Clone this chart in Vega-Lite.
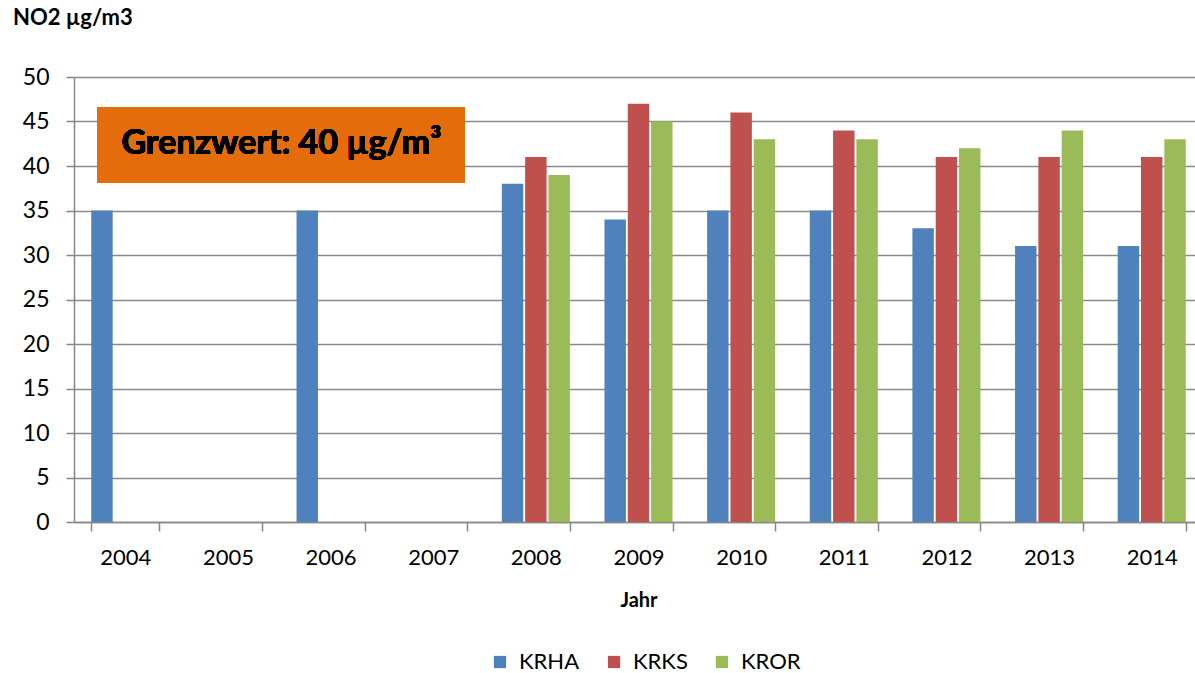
{
  "$schema": "https://vega.github.io/schema/vega-lite/v6.json",
  "width": 1129,
  "height": 445,
  "autosize": {"type": "none"},
  "padding": {"left": 74, "top": 77, "right": 0, "bottom": 151},
  "background": "white",
  "title": {"text": "NO2 µg/m3", "anchor": "start", "frame": "group", "dx": -61, "offset": 19, "baseline": "alphabetic", "font": "Lato", "fontSize": 22, "fontWeight": "bold", "color": "black"},
  "config": {"font": "Lato", "view": {"stroke": null}},
  "data": {"values": [
    {"Jahr": "2004", "Station": "KRHA", "NO2": 35},
    {"Jahr": "2006", "Station": "KRHA", "NO2": 35},
    {"Jahr": "2008", "Station": "KRHA", "NO2": 38},
    {"Jahr": "2008", "Station": "KRKS", "NO2": 41},
    {"Jahr": "2008", "Station": "KROR", "NO2": 39},
    {"Jahr": "2009", "Station": "KRHA", "NO2": 34},
    {"Jahr": "2009", "Station": "KRKS", "NO2": 47},
    {"Jahr": "2009", "Station": "KROR", "NO2": 45},
    {"Jahr": "2010", "Station": "KRHA", "NO2": 35},
    {"Jahr": "2010", "Station": "KRKS", "NO2": 46},
    {"Jahr": "2010", "Station": "KROR", "NO2": 43},
    {"Jahr": "2011", "Station": "KRHA", "NO2": 35},
    {"Jahr": "2011", "Station": "KRKS", "NO2": 44},
    {"Jahr": "2011", "Station": "KROR", "NO2": 43},
    {"Jahr": "2012", "Station": "KRHA", "NO2": 33},
    {"Jahr": "2012", "Station": "KRKS", "NO2": 41},
    {"Jahr": "2012", "Station": "KROR", "NO2": 42},
    {"Jahr": "2013", "Station": "KRHA", "NO2": 31},
    {"Jahr": "2013", "Station": "KRKS", "NO2": 41},
    {"Jahr": "2013", "Station": "KROR", "NO2": 44},
    {"Jahr": "2014", "Station": "KRHA", "NO2": 31},
    {"Jahr": "2014", "Station": "KRKS", "NO2": 41},
    {"Jahr": "2014", "Station": "KROR", "NO2": 43}
  ]},
  "layer": [
    {
      "mark": {"type": "bar"},
      "encoding": {
        "x": {"field": "Jahr", "type": "nominal",
          "scale": {"domain": ["2004", "2005", "2006", "2007", "2008", "2009", "2010", "2011", "2012", "2013", "2014"], "paddingInner": 0.337, "paddingOuter": 0.168},
          "axis": {"title": "Jahr", "titleFont": "Lato", "titleFontSize": 20, "titleFontWeight": "bold", "titleColor": "black", "titlePadding": 22,
            "labelFont": "Lato", "labelFontSize": 22, "labelColor": "black", "labelAngle": 0, "labelPadding": 16,
            "tickBand": "extent", "tickSize": 9, "tickColor": "#868686", "tickWidth": 1.5, "domainColor": "#868686", "domainWidth": 1.5, "grid": false}},
        "xOffset": {"field": "Station", "type": "nominal", "scale": {"domain": ["KRHA", "KRKS", "KROR"], "paddingInner": 0.08}},
        "y": {"field": "NO2", "type": "quantitative", "scale": {"domain": [0, 50], "nice": false},
          "axis": {"title": null, "values": [0, 5, 10, 15, 20, 25, 30, 35, 40, 45, 50], "labelFont": "Lato", "labelFontSize": 23, "labelColor": "black", "labelPadding": 17,
            "tickSize": 8, "tickColor": "#868686", "tickWidth": 1.5, "domainColor": "#868686", "domainWidth": 1.5, "grid": true, "gridColor": "#8a8a8a", "gridWidth": 1.5}},
        "color": {"field": "Station", "type": "nominal",
          "scale": {"domain": ["KRHA", "KRKS", "KROR"], "range": ["#4F81BD", "#C0504D", "#9BBB59"]},
          "legend": {"orient": "none", "legendX": 415, "legendY": 574, "direction": "horizontal", "title": null, "symbolType": "square", "symbolSize": 150, "symbolStrokeWidth": 0,
            "labelFont": "Lato", "labelFontSize": 22, "labelColor": "black", "labelOffset": 8, "columnPadding": 23, "padding": 0}}
      }
    },
    {
      "mark": {"type": "rect", "color": "#E46C0A"},
      "encoding": {
        "x": {"datum": 2003.728, "type": "quantitative", "scale": {"domain": [2003.5, 2014.5], "nice": false, "zero": false}, "axis": null},
        "x2": {"datum": 2007.308},
        "y": {"datum": 46.6, "type": "quantitative"},
        "y2": {"datum": 38.1}
      }
    },
    {
      "mark": {"type": "text", "font": "Lato", "fontSize": 34, "fontWeight": "bold", "color": "black", "align": "center", "baseline": "alphabetic"},
      "encoding": {
        "x": {"datum": 2005.52, "type": "quantitative", "scale": {"domain": [2003.5, 2014.5], "nice": false, "zero": false}, "axis": null},
        "y": {"datum": 41.3, "type": "quantitative"},
        "text": {"value": "Grenzwert: 40 µg/m³"}
      }
    }
  ],
  "resolve": {"scale": {"x": "independent"}, "axis": {"x": "independent"}}
}
